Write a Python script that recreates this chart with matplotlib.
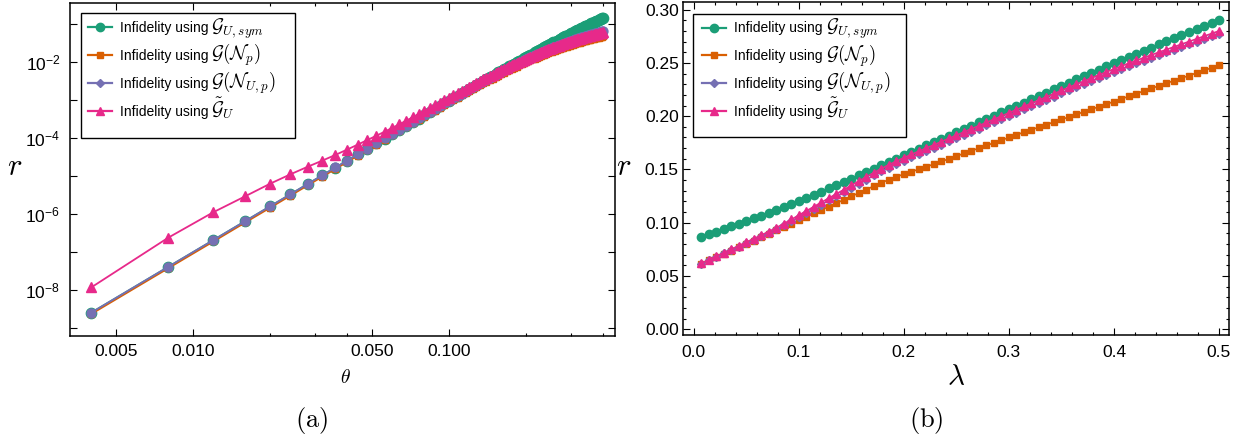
import math
import matplotlib
matplotlib.use("Agg")
import matplotlib.pyplot as plt
from matplotlib.lines import Line2D
from matplotlib.patches import Rectangle
from matplotlib.ticker import (FixedLocator, FixedFormatter, FuncFormatter,
                               NullFormatter, NullLocator, MultipleLocator,
                               FormatStrFormatter)

plt.rcParams['font.family'] = ['Liberation Sans', 'DejaVu Sans']
plt.rcParams['mathtext.fontset'] = 'cm'

# ---------------- panel (a): infidelity r vs theta (log-log) ----------------
theta = [
    0.004, 0.008, 0.012, 0.016, 0.020, 0.024, 0.028, 0.032, 0.036, 0.040,
    0.044, 0.048, 0.052, 0.056, 0.060, 0.064, 0.068, 0.072, 0.076, 0.080,
    0.084, 0.088, 0.092, 0.096, 0.100, 0.104, 0.108, 0.112, 0.116, 0.120,
    0.124, 0.128, 0.132, 0.136, 0.140, 0.144, 0.148, 0.152, 0.156, 0.160,
    0.164, 0.168, 0.172, 0.176, 0.180, 0.184, 0.188, 0.192, 0.196, 0.200,
    0.204, 0.208, 0.212, 0.216, 0.220, 0.224, 0.228, 0.232, 0.236, 0.240,
    0.244, 0.248, 0.252, 0.256, 0.260, 0.264, 0.268, 0.272, 0.276, 0.280,
    0.284, 0.288, 0.292, 0.296, 0.300, 0.304, 0.308, 0.312, 0.316, 0.320,
    0.324, 0.328, 0.332, 0.336, 0.340, 0.344, 0.348, 0.352, 0.356, 0.360,
    0.364, 0.368, 0.372, 0.376, 0.380, 0.384, 0.388, 0.392, 0.396, 0.400,
]

r_sym_a = [
    2.56e-9, 4.10e-8, 2.07e-7, 6.55e-7, 1.60e-6, 3.31e-6, 6.13e-6, 1.05e-5, 1.67e-5, 2.54e-5,
    3.72e-5, 5.25e-5, 7.22e-5, 9.68e-5, 1.274e-4, 1.645e-4, 2.092e-4, 2.622e-4, 3.246e-4, 3.974e-4,
    4.816e-4, 5.782e-4, 6.884e-4, 8.134e-4, 9.542e-4, 1.112e-3, 1.288e-3, 1.484e-3, 1.701e-3, 1.940e-3,
    2.202e-3, 2.489e-3, 2.802e-3, 3.142e-3, 3.511e-3, 3.911e-3, 4.342e-3, 4.805e-3, 5.303e-3, 5.836e-3,
    6.407e-3, 7.015e-3, 7.664e-3, 8.353e-3, 9.085e-3, 9.860e-3, 1.068e-2, 1.155e-2, 1.246e-2, 1.342e-2,
    1.444e-2, 1.550e-2, 1.662e-2, 1.779e-2, 1.901e-2, 2.029e-2, 2.162e-2, 2.302e-2, 2.448e-2, 2.599e-2,
    2.757e-2, 2.921e-2, 3.091e-2, 3.267e-2, 3.450e-2, 3.640e-2, 3.836e-2, 4.040e-2, 4.249e-2, 4.466e-2,
    4.690e-2, 4.921e-2, 5.159e-2, 5.404e-2, 5.656e-2, 5.916e-2, 6.184e-2, 6.458e-2, 6.740e-2, 7.031e-2,
    7.328e-2, 7.633e-2, 7.945e-2, 8.266e-2, 8.594e-2, 8.930e-2, 9.275e-2, 9.627e-2, 9.987e-2, 1.0355e-1,
    1.0731e-1, 1.1115e-1, 1.1506e-1, 1.1907e-1, 1.2315e-1, 1.2732e-1, 1.3156e-1, 1.3589e-1, 1.4030e-1, 1.4480e-1,
]

r_np_a = [
    2.36e-9, 3.77e-8, 1.90e-7, 6.03e-7, 1.47e-6, 3.05e-6, 5.66e-6, 9.64e-6, 1.54e-5, 2.346e-5,
    3.430e-5, 4.850e-5, 6.668e-5, 8.949e-5, 1.1763e-4, 1.5184e-4, 1.9288e-4, 2.4156e-4, 2.9867e-4, 3.6505e-4,
    4.4155e-4, 5.2902e-4, 6.2826e-4, 7.4015e-4, 8.655e-4, 1.0050e-3, 1.1596e-3, 1.3299e-3, 1.5167e-3, 1.7204e-3,
    1.9418e-3, 2.1814e-3, 2.4396e-3, 2.7168e-3, 3.0133e-3, 3.3294e-3, 3.6654e-3, 4.0213e-3, 4.3970e-3, 4.7926e-3,
    5.2080e-3, 5.6429e-3, 6.0973e-3, 6.5707e-3, 7.0628e-3, 7.5732e-3, 8.1013e-3, 8.6467e-3, 9.2090e-3, 9.7872e-3,
    1.0381e-2, 1.0990e-2, 1.1615e-2, 1.2249e-2, 1.2899e-2, 1.3560e-2, 1.4233e-2, 1.4917e-2, 1.5611e-2, 1.6315e-2,
    1.7027e-2, 1.7747e-2, 1.8475e-2, 1.9210e-2, 1.9950e-2, 2.0697e-2, 2.1449e-2, 2.2205e-2, 2.2966e-2, 2.3730e-2,
    2.4497e-2, 2.5268e-2, 2.6039e-2, 2.6813e-2, 2.7589e-2, 2.8367e-2, 2.9144e-2, 2.9923e-2, 3.0702e-2, 3.1480e-2,
    3.2259e-2, 3.3037e-2, 3.3815e-2, 3.4592e-2, 3.5367e-2, 3.6142e-2, 3.6915e-2, 3.7687e-2, 3.8457e-2, 3.9226e-2,
    3.9993e-2, 4.0758e-2, 4.1521e-2, 4.2282e-2, 4.3041e-2, 4.3798e-2, 4.4553e-2, 4.5306e-2, 4.6056e-2, 4.6804e-2,
]

r_nup_a = [
    2.56e-9, 4.10e-8, 2.07e-7, 6.55e-7, 1.60e-6, 3.32e-6, 6.14e-6, 1.05e-5, 1.68e-5, 2.55e-5,
    3.733e-5, 5.282e-5, 7.264e-5, 9.756e-5, 1.2832e-4, 1.6577e-4, 2.1077e-4, 2.642e-4, 3.270e-4, 4.002e-4,
    4.847e-4, 5.815e-4, 6.916e-4, 8.161e-4, 9.560e-4, 1.1124e-3, 1.2860e-3, 1.4780e-3, 1.6893e-3, 1.9209e-3,
    2.1736e-3, 2.4482e-3, 2.7455e-3, 3.0662e-3, 3.4111e-3, 3.7805e-3, 4.1753e-3, 4.5955e-3, 5.0419e-3, 5.5145e-3,
    6.0137e-3, 6.5396e-3, 7.0921e-3, 7.6714e-3, 8.2771e-3, 8.9094e-3, 9.5677e-3, 1.02517e-2, 1.09613e-2, 1.1696e-2,
    1.2455e-2, 1.3240e-2, 1.4047e-2, 1.4875e-2, 1.5724e-2, 1.6595e-2, 1.7488e-2, 1.8400e-2, 1.9331e-2, 2.0280e-2,
    2.1248e-2, 2.2231e-2, 2.3229e-2, 2.4243e-2, 2.5270e-2, 2.6311e-2, 2.7362e-2, 2.8424e-2, 2.9499e-2, 3.0585e-2,
    3.1676e-2, 3.2779e-2, 3.3889e-2, 3.5006e-2, 3.6128e-2, 3.7259e-2, 3.8391e-2, 3.9532e-2, 4.0672e-2, 4.1821e-2,
    4.2970e-2, 4.4123e-2, 4.5275e-2, 4.6433e-2, 4.7590e-2, 4.8747e-2, 4.9908e-2, 5.1068e-2, 5.2228e-2, 5.3385e-2,
    5.4544e-2, 5.5702e-2, 5.6859e-2, 5.8013e-2, 5.9166e-2, 6.0319e-2, 6.1470e-2, 6.2620e-2, 6.3765e-2, 6.4909e-2,
]

r_tilde_a = [
    1.18e-8, 2.40e-7, 1.12e-6, 2.95e-6, 6.30e-6, 1.11e-5, 1.75e-5, 2.55e-5, 3.60e-5, 4.97e-5,
    6.72e-5, 8.874e-5, 1.148e-4, 1.463e-4, 1.848e-4, 2.304e-4, 2.845e-4, 3.487e-4, 4.218e-4, 5.083e-4,
    6.059e-4, 7.182e-4, 8.438e-4, 9.875e-4, 1.1472e-3, 1.3238e-3, 1.5175e-3, 1.7293e-3, 1.9630e-3, 2.2186e-3,
    2.4953e-3, 2.7958e-3, 3.1189e-3, 3.4648e-3, 3.8341e-3, 4.2266e-3, 4.6471e-3, 5.0918e-3, 5.5612e-3, 6.0549e-3,
    6.5730e-3, 7.1151e-3, 7.6807e-3, 8.2698e-3, 8.8813e-3, 9.5152e-3, 1.01705e-2, 1.08463e-2, 1.15532e-2, 1.22808e-2,
    1.3028e-2, 1.3796e-2, 1.4581e-2, 1.5381e-2, 1.6196e-2, 1.7026e-2, 1.7873e-2, 1.8731e-2, 1.9602e-2, 2.0483e-2,
    2.1397e-2, 2.2320e-2, 2.3252e-2, 2.4195e-2, 2.5144e-2, 2.6101e-2, 2.7061e-2, 2.8026e-2, 2.8998e-2, 2.9973e-2,
    3.0979e-2, 3.1992e-2, 3.3008e-2, 3.4026e-2, 3.5044e-2, 3.6067e-2, 3.7086e-2, 3.8109e-2, 3.9126e-2, 4.0148e-2,
    4.1165e-2, 4.2182e-2, 4.3192e-2, 4.4204e-2, 4.5211e-2, 4.6212e-2, 4.7213e-2, 4.8208e-2, 4.9199e-2, 5.0182e-2,
    5.1190e-2, 5.2193e-2, 5.3192e-2, 5.4184e-2, 5.5172e-2, 5.6157e-2, 5.7136e-2, 5.8111e-2, 5.9078e-2, 6.0041e-2,
]

# ---------------- panel (b): infidelity r vs lambda (linear) ----------------
lam = [
    0.0071, 0.0143, 0.0214, 0.0286, 0.0357, 0.0429, 0.0500,
    0.0571, 0.0643, 0.0714, 0.0786, 0.0857, 0.0929, 0.1000,
    0.1071, 0.1143, 0.1214, 0.1286, 0.1357, 0.1429, 0.1500,
    0.1571, 0.1643, 0.1714, 0.1786, 0.1857, 0.1929, 0.2000,
    0.2071, 0.2143, 0.2214, 0.2286, 0.2357, 0.2429, 0.2500,
    0.2571, 0.2643, 0.2714, 0.2786, 0.2857, 0.2929, 0.3000,
    0.3071, 0.3143, 0.3214, 0.3286, 0.3357, 0.3429, 0.3500,
    0.3571, 0.3643, 0.3714, 0.3786, 0.3857, 0.3929, 0.4000,
    0.4071, 0.4143, 0.4214, 0.4286, 0.4357, 0.4429, 0.4500,
    0.4571, 0.4643, 0.4714, 0.4786, 0.4857, 0.4929, 0.5000,
]

r_sym_b = [
    0.0870, 0.0894, 0.0918, 0.0942, 0.0966, 0.0991, 0.1016,
    0.1042, 0.1068, 0.1094, 0.1121, 0.1148, 0.1176, 0.1204,
    0.1233, 0.1262, 0.1292, 0.1322, 0.1353, 0.1384, 0.1415,
    0.1446, 0.1477, 0.1508, 0.1539, 0.1570, 0.1601, 0.1632,
    0.1663, 0.1694, 0.1725, 0.1756, 0.1787, 0.1818, 0.1849,
    0.1880, 0.1911, 0.1942, 0.1973, 0.2004, 0.2035, 0.2066,
    0.2097, 0.2128, 0.2159, 0.2190, 0.2221, 0.2252, 0.2283,
    0.2314, 0.2345, 0.2376, 0.2407, 0.2437, 0.2467, 0.2497,
    0.2527, 0.2557, 0.2586, 0.2615, 0.2644, 0.2673, 0.2702,
    0.2731, 0.2760, 0.2788, 0.2816, 0.2844, 0.2872, 0.2900,
]

r_np_b = [
    0.0615, 0.0646, 0.0677, 0.0708, 0.0739, 0.0770, 0.0801,
    0.0832, 0.0864, 0.0896, 0.0928, 0.0960, 0.0992, 0.1024,
    0.1056, 0.1088, 0.1120, 0.1152, 0.1184, 0.1216, 0.1248,
    0.1280, 0.1312, 0.1344, 0.1375, 0.1405, 0.1432, 0.1456,
    0.1479, 0.1502, 0.1526, 0.1550, 0.1575, 0.1600, 0.1625,
    0.1650, 0.1675, 0.1700, 0.1725, 0.1750, 0.1775, 0.1800,
    0.1825, 0.1849, 0.1873, 0.1897, 0.1921, 0.1945, 0.1969,
    0.1993, 0.2017, 0.2041, 0.2065, 0.2089, 0.2113, 0.2137,
    0.2162, 0.2187, 0.2212, 0.2237, 0.2261, 0.2285, 0.2309,
    0.2333, 0.2357, 0.2381, 0.2405, 0.2429, 0.2453, 0.2477,
]

r_nup_b = [
    0.0617, 0.0649, 0.0681, 0.0713, 0.0745, 0.0776, 0.0808,
    0.0840, 0.0872, 0.0905, 0.0940, 0.0977, 0.1015, 0.1054,
    0.1093, 0.1132, 0.1171, 0.1210, 0.1249, 0.1288, 0.1327,
    0.1366, 0.1405, 0.1444, 0.1482, 0.1518, 0.1552, 0.1584,
    0.1614, 0.1644, 0.1674, 0.1704, 0.1734, 0.1764, 0.1794,
    0.1824, 0.1854, 0.1884, 0.1914, 0.1944, 0.1974, 0.2004,
    0.2034, 0.2064, 0.2094, 0.2124, 0.2154, 0.2184, 0.2214,
    0.2244, 0.2273, 0.2302, 0.2331, 0.2360, 0.2388, 0.2416,
    0.2443, 0.2470, 0.2496, 0.2522, 0.2548, 0.2573, 0.2598,
    0.2623, 0.2648, 0.2673, 0.2698, 0.2723, 0.2748, 0.2773,
]

r_tilde_b = [
    0.0620, 0.0653, 0.0686, 0.0719, 0.0752, 0.0785, 0.0818,
    0.0851, 0.0884, 0.0918, 0.0954, 0.0992, 0.1031, 0.1071,
    0.1111, 0.1151, 0.1191, 0.1231, 0.1271, 0.1311, 0.1351,
    0.1391, 0.1431, 0.1470, 0.1508, 0.1544, 0.1578, 0.1610,
    0.1641, 0.1671, 0.1701, 0.1731, 0.1761, 0.1791, 0.1821,
    0.1851, 0.1881, 0.1911, 0.1941, 0.1971, 0.2001, 0.2031,
    0.2061, 0.2091, 0.2121, 0.2151, 0.2181, 0.2211, 0.2241,
    0.2271, 0.2300, 0.2329, 0.2358, 0.2387, 0.2415, 0.2443,
    0.2470, 0.2497, 0.2523, 0.2549, 0.2575, 0.2600, 0.2625,
    0.2650, 0.2675, 0.2700, 0.2725, 0.2750, 0.2775, 0.2800,
]

label_text = 'Infidelity using'
label_math = [
    r'$\mathcal{G}_{U,sym}$',
    r'$\mathcal{G}(\mathcal{N}_p)$',
    r'$\mathcal{G}(\mathcal{N}_{U,p})$',
    r'$\tilde{\mathcal{G}}_U$',
]
colors = ['#1b9e77', '#d95f02', '#7570b3', '#e7298a']
legend_markers = ['o', 's', 'D', '^']
legend_sizes = [6, 4.5, 4.5, 6]
LEG_FS = 10
MATH_FS = 13.5


def style_axes(ax):
    for side in ax.spines.values():
        side.set_linewidth(1.1)
    ax.tick_params(which='both', direction='in', top=True, right=True,
                   width=0.8, labelsize=12.5)
    ax.tick_params(which='major', length=5)
    ax.tick_params(which='minor', length=2.5)


def add_legend(ax, x0, y0, box):
    """Legend with a frame drawn by hand, so the larger math part fits inside."""
    x, y, w, h = box
    fig.patches.append(Rectangle((x / 1238, 1 - (y + h) / 445), w / 1238, h / 445,
                                 transform=fig.transFigure, facecolor='white',
                                 edgecolor='black', lw=1.0, zorder=1))
    lax = fig.add_axes(ax.get_position(), zorder=2, frameon=False)
    lax.axis('off')
    handles = [Line2D([], [], color=c, marker=m, ms=s, lw=1.6, mec=c)
               for c, m, s in zip(colors, legend_markers, legend_sizes)]
    return lax.legend(handles, [label_text] * 4, loc='upper left',
                      bbox_to_anchor=(x0, y0), borderaxespad=0, borderpad=0,
                      fontsize=LEG_FS, frameon=False, handlelength=1.7,
                      handletextpad=0.6, labelspacing=1.0)


def log_label(v, pos):
    e = round(math.log10(v))
    return r'$\mathdefault{10^{%d}}$' % e if e % 2 == 0 else ''


fig = plt.figure(figsize=(12.38, 4.45), dpi=100)

# ---- panel (a) ----
ax1 = fig.add_axes([0.0565, 0.2449, 0.4402, 0.7483])
ax1.set_xscale('log')
ax1.set_yscale('log')
ax1.plot(theta, r_sym_a, color=colors[0], marker='o', ms=7.4, lw=1.3, mec=colors[0])
ax1.plot(theta, r_np_a, color=colors[1], marker='s', ms=4.5, lw=1.3, mec=colors[1])
ax1.plot(theta, r_nup_a, color=colors[2], marker='o', ms=6.4, lw=1.3, mec=colors[2])
ax1.plot(theta, r_tilde_a, color=colors[3], marker='^', ms=6.5, lw=1.3, mec=colors[3])
ax1.set_xlim(0.0033, 0.445)
ax1.set_ylim(6.2e-10, 0.355)
ax1.xaxis.set_major_locator(FixedLocator([0.005, 0.01, 0.05, 0.1]))
ax1.xaxis.set_major_formatter(FixedFormatter(['0.005', '0.010', '0.050', '0.100']))
ax1.xaxis.set_minor_locator(FixedLocator([0.02, 0.03, 0.04, 0.2, 0.3, 0.4]))
ax1.xaxis.set_minor_formatter(NullFormatter())
ax1.yaxis.set_major_locator(FixedLocator([10.0 ** e for e in range(-9, 0)]))
ax1.yaxis.set_major_formatter(FuncFormatter(log_label))
ax1.yaxis.set_minor_locator(NullLocator())
style_axes(ax1)
ax1.tick_params(axis='y', pad=7)
ax1.tick_params(axis='x', pad=6)

# ---- panel (b) ----
ax2 = fig.add_axes([0.5517, 0.2472, 0.441, 0.748])
ax2.plot(lam, r_sym_b, color=colors[0], marker='o', ms=6.0, lw=1.2, mec=colors[0])
ax2.plot(lam, r_np_b, color=colors[1], marker='s', ms=4.2, lw=1.2, mec=colors[1])
ax2.plot(lam, r_nup_b, color=colors[2], marker='D', ms=4.2, lw=1.2, mec=colors[2])
ax2.plot(lam, r_tilde_b, color=colors[3], marker='^', ms=5.8, lw=1.2, mec=colors[3])
ax2.set_xlim(-0.0103, 0.5095)
ax2.set_ylim(-0.0053, 0.307)
ax2.xaxis.set_major_locator(MultipleLocator(0.1))
ax2.xaxis.set_major_formatter(FormatStrFormatter('%.1f'))
ax2.xaxis.set_minor_locator(MultipleLocator(0.02))
ax2.yaxis.set_major_locator(MultipleLocator(0.05))
ax2.yaxis.set_major_formatter(FormatStrFormatter('%.2f'))
ax2.yaxis.set_minor_locator(MultipleLocator(0.01))
style_axes(ax2)
ax2.tick_params(axis='y', pad=3)
ax2.tick_params(axis='x', pad=7)

leg1 = add_legend(ax1, 0.033, 0.945, (81, 13, 214, 125))
leg2 = add_legend(ax2, 0.035, 0.942, (693, 14, 213, 123))

# axis labels and panel captions
fig.text(15 / 1238, 1 - 167 / 445, r'$r$', fontsize=22, ha='center', va='center')
fig.text(624 / 1238, 1 - 167 / 445, r'$r$', fontsize=22, ha='center', va='center')
fig.text(345 / 1238, 1 - 378 / 445, r'$\theta$', fontsize=14, ha='center', va='center')
fig.text(956 / 1238, 1 - 377 / 445, r'$\lambda$', fontsize=21, ha='center', va='center')
fig.text(312 / 1238, 1 - 420 / 445, r'$\mathrm{(a)}$', fontsize=19, ha='center', va='center')
fig.text(926 / 1238, 1 - 420 / 445, r'$\mathrm{(b)}$', fontsize=19, ha='center', va='center')

# put the math part of each legend entry right after "Infidelity using"
fig.canvas.draw()
renderer = fig.canvas.get_renderer()
W, H = fig.bbox.width, fig.bbox.height
for leg in (leg1, leg2):
    for t, m in zip(leg.get_texts(), label_math):
        bb = t.get_window_extent(renderer)
        x, y = t.get_transform().transform(t.get_position())
        fig.text((bb.x1 + 3) / W, y / H, m, fontsize=MATH_FS,
                 ha='left', va='baseline', zorder=10)

fig.savefig('out.png', dpi=100, facecolor='white')
